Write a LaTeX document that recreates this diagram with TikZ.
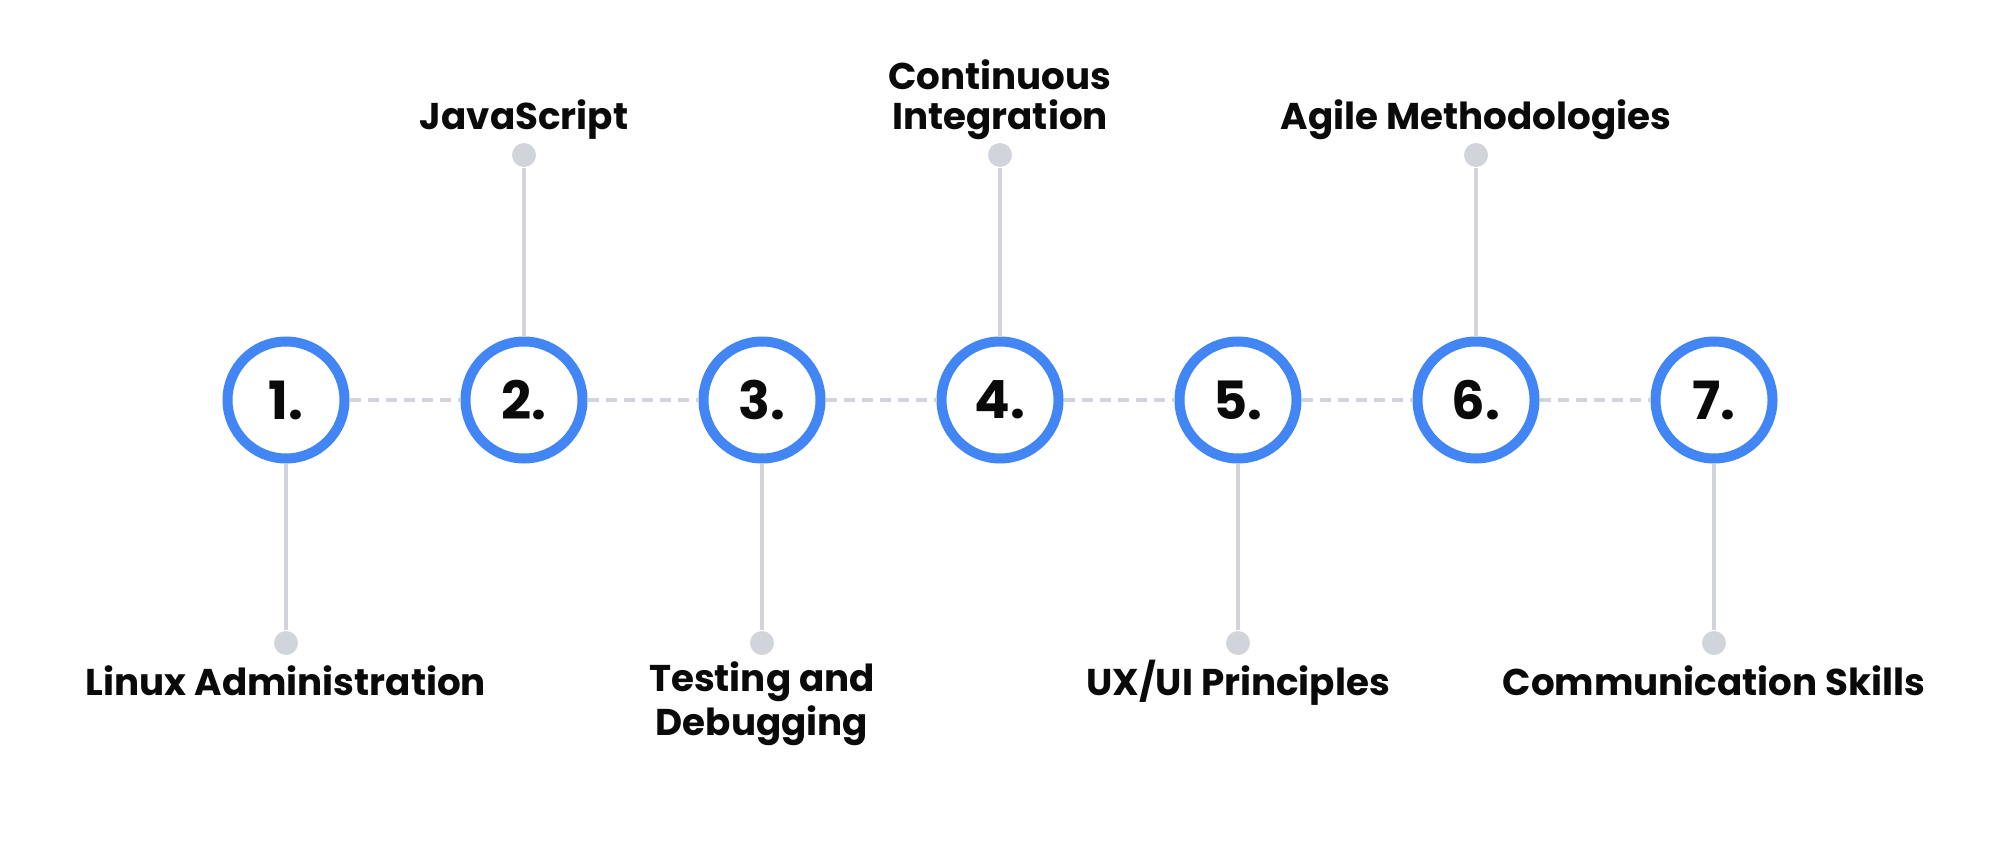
\documentclass[tikz,border=0pt]{standalone}
\usepackage{fontspec}
\setmainfont{Poppins}
\usetikzlibrary{positioning}
\definecolor{stepcolor}{RGB}{66, 133, 244}
\definecolor{linkcolor}{RGB}{209, 213, 219}
\definecolor{textcolor}{RGB}{10, 10, 10}

\begin{document}
\begin{tikzpicture}[
    % Numbered step circle
    stepcircle/.style={
        circle,
        draw=stepcolor,
        fill=white,
        line width=0.1cm,
        minimum size=1.17cm,
        inner sep=0pt,
        font=\fontsize{15}{18}\selectfont\bfseries,
        text=textcolor
    },
    % End dot of a stem
    stemdot/.style={
        circle,
        fill=linkcolor,
        minimum size=0.24cm,
        inner sep=0pt
    },
    % Stem line
    stem/.style={
        draw=linkcolor,
        line width=0.04cm
    },
    % Dashed timeline
    timeline/.style={
        draw=linkcolor,
        line width=0.04cm,
        dash pattern=on 0.11cm off 0.07cm
    },
    % Skill label (base = baseline of the last line)
    skill/.style={
        font=\fontsize{10.6}{11.4}\selectfont\bfseries,
        text=textcolor,
        align=center,
        inner sep=0pt,
        anchor=base
    }
]

\useasboundingbox (0, 0) rectangle (20, 8.48);

% ============================================
% STEPS
% ============================================

\foreach \i in {1,...,7} {
    \node[stepcircle] (c\i) at ({2.86 + 2.38*(\i-1)}, 4.48) {\i.};
}

% Dots below (odd steps) and above (even steps)
\foreach \i in {1,3,5,7} {
    \node[stemdot] (d\i) at ({2.86 + 2.38*(\i-1)}, 2.05) {};
}
\foreach \i in {2,4,6} {
    \node[stemdot] (d\i) at ({2.86 + 2.38*(\i-1)}, 6.93) {};
}

% ============================================
% CONNECTORS
% ============================================

\foreach \i/\j in {1/2, 2/3, 3/4, 4/5, 5/6, 6/7} {
    \draw[timeline] (c\i) -- (c\j);
}
\foreach \i in {1,...,7} {
    \draw[stem] (c\i) -- (d\i);
}

% ============================================
% LABELS
% ============================================

\node[skill] (l1) at (2.86, 1.53) {Linux Administration};
\node[skill] (l2) at (5.24, 7.18) {JavaScript};
\node[skill] (l3) at (7.62, 1.13) {Testing and\\Debugging};
\node[skill] (l4) at (10.00, 7.18) {Continuous\\Integration};
\node[skill] (l5) at (12.38, 1.53) {UX/UI Principles};
\node[skill] (l6) at (14.76, 7.18) {Agile Methodologies};
\node[skill] (l7) at (17.14, 1.53) {Communication Skills};

\end{tikzpicture}
\end{document}
